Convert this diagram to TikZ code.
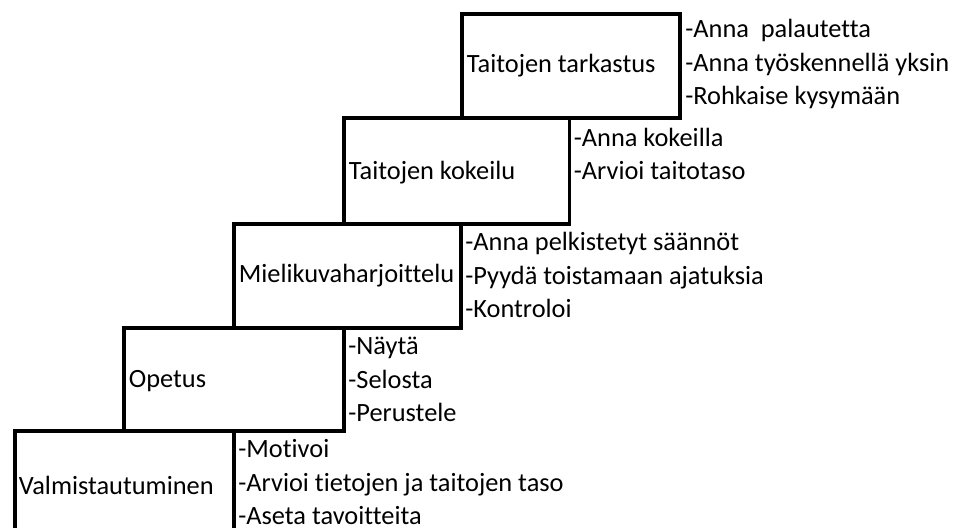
\documentclass[tikz,border=0pt]{standalone}
\usepackage{fontspec}
\setmainfont{Carlito}[Ligatures=NoCommon]
\usetikzlibrary{positioning, calc}

\begin{document}
\begin{tikzpicture}[
  stepbox/.style={draw, line width=2pt, inner sep=0pt, minimum height=2.08cm, anchor=north west},
  steplabel/.style={font=\fontsize{15}{19.2}\selectfont, inner sep=0pt, anchor=base west},
  tips/.style={font=\fontsize{15}{19.2}\selectfont, inner sep=0pt, anchor=base west, align=left}
  ]
  \useasboundingbox (0,0) rectangle (19.1,10.56);
  \clip (0,0) rectangle (19.1,10.56);
  % portaat alhaalta ylos
  \node[stepbox, minimum width=4.38cm] (valm) at (0.26, 1.98) {};
  \node[stepbox, minimum width=4.40cm, minimum height=2.06cm] (opetus) at (2.44, 4.04) {};
  \node[stepbox, minimum width=4.54cm] (mieli) at (4.64, 6.12) {};
  \node[stepbox, minimum width=4.51cm, minimum height=2.12cm] (kokeilu) at (6.84, 8.24) {};
  \node[stepbox, minimum width=4.36cm] (tarkastus) at (9.20, 10.32) {};

  % portaiden nimet
  \node[steplabel] (valm-t) at (0.37, 0.66) {Valmistautuminen};
  \node[steplabel] (opetus-t) at (2.57, 2.80) {Opetus};
  \node[steplabel] (mieli-t) at (4.77, 4.90) {Mielikuvaharjoittelu};
  \node[steplabel] (kokeilu-t) at (6.97, 6.96) {Taitojen kokeilu};
  \node[steplabel] (tarkastus-t) at (9.33, 9.10) {Taitojen tarkastus};

  % ohjeet oikealla (ankkuri = viimeisen rivin pohjaviiva)
  \node[tips] (valm-o) at (4.76, 0.06) {-Motivoi\\-Arvioi tietojen ja taitojen taso\\-Aseta tavoitteita};
  \node[tips] (opetus-o) at (6.96, 2.12) {-Näytä\\-Selosta\\-Perustele};
  \node[tips] (mieli-o) at (9.30, 4.20) {-Anna pelkistetyt säännöt\\-Pyydä toistamaan ajatuksia\\-Kontroloi};
  \node[tips] (kokeilu-o) at (11.47, 6.96) {-Anna kokeilla\\-Arvioi taitotaso};
  \node[tips] (tarkastus-o) at (13.70, 8.46) {-Anna~\ palautetta\\-Anna työskennellä yksin\\-Rohkaise kysymään};
\end{tikzpicture}
\end{document}
